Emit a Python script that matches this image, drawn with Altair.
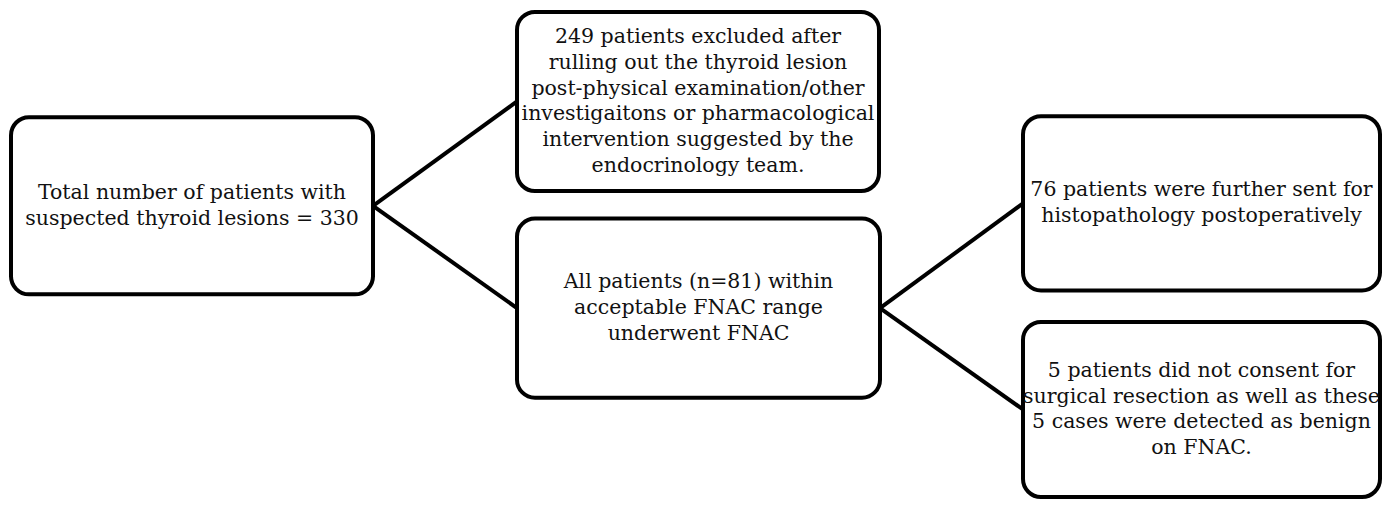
import altair as alt
import pandas as pd

# Flowchart content
box_ids = ["total", "excluded", "fnac", "histo", "declined"]
box_text = [
    ["Total number of patients with", "suspected thyroid lesions = 330"],
    ["249 patients excluded after", "rulling out the thyroid lesion",
     "post-physical examination/other", "investigaitons or pharmacological",
     "intervention suggested by the", "endocrinology team."],
    ["All patients (n=81) within", "acceptable FNAC range", "underwent FNAC"],
    ["76 patients were further sent for", "histopathology postoperatively"],
    ["5 patients did not consent for", "surgical resection as well as these",
     "5 cases were detected as benign", "on FNAC."],
]
# box extents (layout units)
box_left = [11, 517, 517, 1023, 1023]
box_right = [373, 879, 880, 1380, 1380]
box_top = [117, 10, 220, 116, 325]
box_bottom = [297, 192, 402, 293, 503]

edge_from = ["total", "total", "fnac", "fnac"]
edge_to = ["excluded", "fnac", "histo", "declined"]

LINE_STEP = 26.3  # text line spacing in layout units

boxes = pd.DataFrame({
    "id": box_ids,
    "left": box_left, "right": box_right, "top": box_top, "bottom": box_bottom,
})
boxes["cx"] = (boxes["left"] + boxes["right"]) / 2
boxes["cy"] = (boxes["top"] + boxes["bottom"]) / 2
b = boxes.set_index("id")

rows = []
for bid, lines in zip(box_ids, box_text):
    n = len(lines)
    for i, ln in enumerate(lines):
        rows.append({
            "line": ln,
            "cx": b.loc[bid, "cx"],
            "cy": b.loc[bid, "cy"] + (i - (n - 1) / 2) * LINE_STEP,
        })
text_rows = pd.DataFrame(rows)

edges = pd.DataFrame({
    "x": [b.loc[f, "right"] for f in edge_from],
    "y": [b.loc[f, "cy"] for f in edge_from],
    "x2": [b.loc[t, "left"] for t in edge_to],
    "y2": [b.loc[t, "cy"] for t in edge_to],
})

xs = alt.Scale(domain=[8, 1388])
ys = alt.Scale(domain=[6, 506], reverse=True)

rules = alt.Chart(edges).mark_rule(color="black", strokeWidth=4).encode(
    x=alt.X("x:Q", scale=xs, axis=None),
    y=alt.Y("y:Q", scale=ys, axis=None),
    x2="x2:Q", y2="y2:Q",
)

rects = alt.Chart(boxes).mark_rect(
    fill="white", stroke="black", strokeWidth=4, cornerRadius=18
).encode(
    x=alt.X("left:Q", scale=xs, axis=None),
    x2="right:Q",
    y=alt.Y("top:Q", scale=ys, axis=None),
    y2="bottom:Q",
)

texts = alt.Chart(text_rows).mark_text(
    font="DejaVu Serif", fontSize=20.5,
    align="center", baseline="middle", color="#111111",
).encode(
    x=alt.X("cx:Q", scale=xs, axis=None),
    y=alt.Y("cy:Q", scale=ys, axis=None),
    text="line:N",
)

chart = (rules + rects + texts).properties(
    width=1380, height=492, padding=0
).configure_view(stroke=None)

chart.save("out.html", embed_options={"renderer": "svg", "actions": False})
